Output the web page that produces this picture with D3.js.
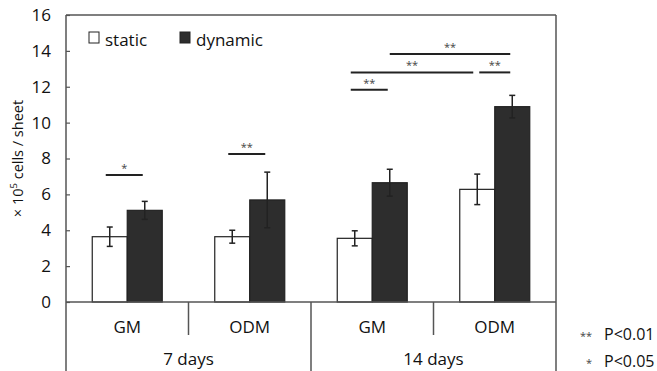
<!DOCTYPE html>
<html>
<head>
<meta charset="utf-8">
<script src="https://cdn.jsdelivr.net/npm/d3@7"></script>
<style>
  body { margin: 0; background: #fff; }
  text { font-family: "Open Sans", "DejaVu Sans", sans-serif; fill: #111; }
</style>
</head>
<body>
<svg></svg>
<script>
// chart data
const periods = ["7 days", "14 days"];
const media = ["GM", "ODM"];
const series = ["static", "dynamic"];
const groups = ["7d-GM", "7d-ODM", "14d-GM", "14d-ODM"];
const staticMeans = [3.64, 3.64, 3.55, 6.28];
const staticErr = [0.54, 0.36, 0.42, 0.85];
const dynamicMeans = [5.11, 5.69, 6.65, 10.89];
const dynamicErr = [0.5, 1.55, 0.75, 0.63];
const yTicks = [0, 2, 4, 6, 8, 10, 12, 14, 16];

// significance brackets: [group, series] from -> to, height, label
const sigFrom = [["7d-GM", "static"], ["7d-ODM", "static"], ["14d-GM", "static"], ["14d-GM", "static"], ["14d-ODM", "static"], ["14d-GM", "dynamic"]];
const sigTo = [["7d-GM", "dynamic"], ["7d-ODM", "dynamic"], ["14d-GM", "dynamic"], ["14d-ODM", "static"], ["14d-ODM", "dynamic"], ["14d-ODM", "dynamic"]];
const sigHeight = [7.08, 8.25, 11.83, 12.8, 12.8, 13.82];
const sigLabel = ["*", "**", "**", "**", "**", "**"];

const width = 657;
const height = 371;
const plotLeft = 66, plotRight = 556, plotTop = 15, plotBottom = 302;

const svg = d3.select("svg").attr("width", width).attr("height", height);

const xGroup = d3.scaleBand().domain(groups).range([plotLeft, plotRight]);
const xSeries = d3.scaleBand().domain(series)
    .range([xGroup.bandwidth() / 2 - 35, xGroup.bandwidth() / 2 + 35]);
const y = d3.scaleLinear().domain([0, 16]).range([plotBottom, plotTop]);

const rows = groups.flatMap((g, i) => [
    { group: g, s: "static", v: staticMeans[i], e: staticErr[i] },
    { group: g, s: "dynamic", v: dynamicMeans[i], e: dynamicErr[i] }
]);
const cx = (g, s) => xGroup(g) + xSeries(s) + xSeries.bandwidth() / 2;

// frame
const axisColor = "#555";
svg.append("line").attr("x1", plotLeft).attr("x2", plotRight).attr("y1", plotTop).attr("y2", plotTop)
    .attr("stroke", axisColor).attr("stroke-width", 1.5);
svg.append("line").attr("x1", plotRight).attr("x2", plotRight).attr("y1", plotTop).attr("y2", height)
    .attr("stroke", axisColor).attr("stroke-width", 1.5);

// y axis, ticks inward
const yAxis = svg.append("g")
    .attr("transform", "translate(" + plotLeft + ",0)")
    .call(d3.axisLeft(y).tickValues(yTicks).tickSize(-4).tickPadding(15));
yAxis.select(".domain").remove();
yAxis.selectAll(".tick line").attr("stroke", axisColor).attr("stroke-width", 1.2);
yAxis.selectAll("text").attr("font-size", 17).attr("fill", "#111")
    .style("font-family", "'Open Sans', sans-serif");
svg.append("line").attr("x1", plotLeft).attr("x2", plotLeft).attr("y1", plotTop).attr("y2", height)
    .attr("stroke", axisColor).attr("stroke-width", 1.5);

// bars
svg.selectAll("rect.bar")
    .data(rows)
    .enter()
    .append("rect")
    .attr("class", "bar")
    .attr("x", d => xGroup(d.group) + xSeries(d.s))
    .attr("y", d => y(d.v))
    .attr("width", xSeries.bandwidth())
    .attr("height", d => y(0) - y(d.v))
    .attr("fill", d => d.s === "static" ? "#fff" : "#2d2d2d")
    .attr("stroke", "#222")
    .attr("stroke-width", 1.2);

// error bars
const err = svg.selectAll("g.err").data(rows).enter().append("g").attr("class", "err")
    .attr("stroke", "#222").attr("stroke-width", 1.5);
err.append("line")
    .attr("x1", d => cx(d.group, d.s)).attr("x2", d => cx(d.group, d.s))
    .attr("y1", d => y(d.v + d.e)).attr("y2", d => y(d.v - d.e));
[1, -1].forEach(sign => {
    err.append("line")
        .attr("x1", d => cx(d.group, d.s) - 3).attr("x2", d => cx(d.group, d.s) + 3)
        .attr("y1", d => y(d.v + sign * d.e)).attr("y2", d => y(d.v + sign * d.e));
});

// baseline
svg.append("line").attr("x1", plotLeft).attr("x2", plotRight).attr("y1", y(0)).attr("y2", y(0))
    .attr("stroke", axisColor).attr("stroke-width", 1.5);

// significance brackets
sigFrom.forEach((f, i) => {
    let x1 = cx(f[0], f[1]) - 4;
    let x2 = cx(sigTo[i][0], sigTo[i][1]) - 2;
    if (i === 3) x2 -= 2;
    if (i === 4) x1 += 6;
    if (i === 5) x1 += 4;
    const yy = y(sigHeight[i]);
    svg.append("line").attr("x1", x1).attr("x2", x2).attr("y1", yy).attr("y2", yy)
        .attr("stroke", "#222").attr("stroke-width", 2);
    svg.append("text").attr("x", (x1 + x2) / 2).attr("y", yy - 3)
        .attr("text-anchor", "middle").attr("font-size", 11).style("fill", "#444").text(sigLabel[i]);
});

// category axis
const cat = svg.append("g");
groups.forEach((g, i) => {
    cat.append("text").attr("x", xGroup(g) + xGroup.bandwidth() / 2).attr("y", 333)
        .attr("text-anchor", "middle").attr("font-size", 17).text(media[i % 2]);
    if (i % 2 === 1) {
        cat.append("line").attr("x1", xGroup(g)).attr("x2", xGroup(g))
            .attr("y1", plotBottom).attr("y2", 335).attr("stroke", axisColor).attr("stroke-width", 1.5);
    }
});
periods.forEach((p, i) => {
    const x0 = xGroup(groups[i * 2]);
    const x1 = xGroup(groups[i * 2 + 1]) + xGroup.bandwidth();
    cat.append("text").attr("x", (x0 + x1) / 2).attr("y", 365)
        .attr("text-anchor", "middle").attr("font-size", 17).text(p);
    if (i > 0) {
        cat.append("line").attr("x1", x0).attr("x2", x0)
            .attr("y1", plotBottom).attr("y2", height).attr("stroke", axisColor).attr("stroke-width", 1.5);
    }
});

// y title
svg.append("text")
    .attr("transform", "translate(23," + ((plotTop + plotBottom) / 2) + ") rotate(-90)")
    .attr("text-anchor", "middle").attr("font-size", 14.5)
    .html('× 10<tspan dy="-6" font-size="9.5">5</tspan><tspan dy="6"> cells / sheet</tspan>');

// legend
const legend = svg.append("g");
series.forEach((s, i) => {
    const lx = 89 + i * 91;
    legend.append("rect").attr("x", lx).attr("y", 32).attr("width", 10).attr("height", 11)
        .attr("fill", s === "static" ? "#fff" : "#2d2d2d").attr("stroke", "#222").attr("stroke-width", 1);
    legend.append("text").attr("x", lx + 16).attr("y", 46).attr("font-size", 17).text(s);
});

// p-value key
const pStars = ["**", "*"];
const pText = ["P<0.01", "P<0.05"];
pStars.forEach((st, i) => {
    svg.append("text").attr("x", 592).attr("y", 340 + i * 27).attr("text-anchor", "end")
        .attr("font-size", 11).style("fill", "#444").text(st);
    svg.append("text").attr("x", 604).attr("y", 340 + i * 27).attr("font-size", 16).text(pText[i]);
});
</script>
</body>
</html>
